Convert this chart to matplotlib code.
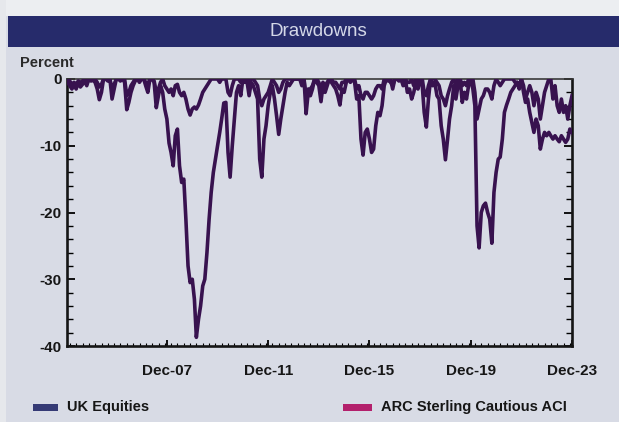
import numpy as np
import pandas as pd
import matplotlib
matplotlib.use("Agg")
import matplotlib.pyplot as plt
import matplotlib.dates as mdates
from matplotlib.patches import Rectangle

# ---------------- data (monthly drawdowns, percent) ----------------
dates = pd.date_range("2004-01-31", "2023-12-31", freq="ME")

uk_equities = [
    # 2004
    -0.5, -1.0, -1.5, -0.8, -1.5, -0.5, -1.2, -0.8, -0.3, -1.0, 0.0, -0.3,
    # 2005
    -0.2, -0.5, -1.5, -3.1, -2.0, 0.0, 0.0, -0.3, 0.0, -3.0, -1.5, 0.0,
    # 2006
    0.0, -0.3, 0.0, -0.5, -4.6, -3.5, -2.0, -1.0, -0.3, 0.0, -0.5, 0.0,
    # 2007
    0.0, -1.0, -2.0, 0.0, 0.0, -0.5, -4.3, -2.5, -1.0, -2.0, -4.5, -6.0,
    # 2008
    -9.6, -11.0, -13.0, -8.5, -7.5, -13.0, -15.5, -15.0, -21.0, -28.0, -30.5, -30.0,
    # 2009
    -33.0, -38.7, -36.0, -34.0, -31.0, -30.0, -26.0, -21.0, -17.0, -14.0, -12.0, -10.0,
    # 2010
    -8.0, -6.0, -3.6, -3.5, -11.0, -14.7, -10.0, -6.0, -2.0, -1.0, -2.5, 0.0,
    # 2011
    -0.5, -0.3, -2.5, -0.5, -1.0, -2.0, -3.0, -12.0, -14.7, -9.0, -7.0, -4.0,
    # 2012
    -2.0, -1.0, -3.0, -5.5, -8.3, -6.0, -4.0, -2.0, -0.5, -1.0, -0.5, 0.0,
    # 2013
    0.0, 0.0, 0.0, -1.0, 0.0, -5.2, -2.0, -2.5, -1.5, 0.0, -0.5, -1.0,
    # 2014
    -3.4, -1.0, -2.0, -1.0, 0.0, -0.5, -1.0, -1.5, -2.5, -3.9, -1.5, -2.0,
    # 2015
    -0.5, 0.0, -0.5, 0.0, -0.5, -3.0, -2.5, -9.0, -11.4, -8.0, -7.5, -9.0,
    # 2016
    -11.0, -10.5, -7.0, -5.0, -5.5, -4.0, -1.0, 0.0, -0.3, 0.0, -1.5, 0.0,
    # 2017
    0.0, -0.3, 0.0, -1.0, 0.0, -2.0, -1.5, -3.0, -2.0, -0.5, -1.5, 0.0,
    # 2018
    -1.0, -5.0, -7.2, -3.0, 0.0, -1.0, -0.5, -2.5, -3.0, -7.0, -9.0, -12.1,
    # 2019
    -9.0, -6.0, -4.0, -1.0, -3.0, -1.0, 0.0, -3.5, -2.0, -3.0, -1.0, 0.0,
    # 2020
    -1.5, -4.0, -22.0, -25.3, -20.0, -19.0, -18.6, -20.0, -21.0, -24.6, -17.0, -14.0,
    # 2021
    -12.0, -11.7, -9.0, -5.0, -3.9, -3.0, -2.0, -1.5, -1.0, -0.5, -1.5, 0.0,
    # 2022
    -1.0, -3.0, -2.0, -1.0, -2.0, -4.0, -2.0, -3.0, -6.0, -4.0, -2.0, -1.0,
    # 2023
    0.0, 0.0, -3.0, -1.0, -4.0, -5.0, -3.0, -5.0, -4.0, -6.0, -4.0, -2.5,
]

arc_cautious = [
    # 2004
    0.0, -0.3, -0.8, -0.5, -0.8, -0.3, -0.5, -0.3, 0.0, -0.2, 0.0, 0.0,
    # 2005
    0.0, 0.0, -0.5, -1.2, -0.8, 0.0, 0.0, 0.0, 0.0, -1.5, -0.8, 0.0,
    # 2006
    0.0, 0.0, 0.0, 0.0, -2.5, -2.0, -1.0, -0.5, 0.0, 0.0, 0.0, 0.0,
    # 2007
    0.0, -0.5, -0.8, 0.0, 0.0, -0.3, -2.0, -1.5, -0.5, 0.0, -1.0, -1.5,
    # 2008
    -2.0, -1.5, -2.5, -1.0, -0.8, -2.0, -2.5, -2.0, -3.0, -4.5, -5.4, -4.5,
    # 2009
    -4.2, -4.5, -3.9, -3.0, -2.0, -1.5, -1.0, -0.5, 0.0, 0.0, 0.0, 0.0,
    # 2010
    -0.5, 0.0, 0.0, 0.0, -2.0, -2.5, -1.0, 0.0, 0.0, 0.0, -0.5, 0.0,
    # 2011
    0.0, 0.0, -0.5, 0.0, 0.0, -0.5, -1.0, -3.0, -4.0, -3.0, -2.5, -2.0,
    # 2012
    -1.0, 0.0, -0.5, -1.0, -2.0, -1.5, -0.5, 0.0, 0.0, 0.0, 0.0, 0.0,
    # 2013
    0.0, 0.0, 0.0, 0.0, 0.0, -2.5, -1.5, -1.5, -1.0, 0.0, 0.0, -0.5,
    # 2014
    -1.5, -0.5, -1.0, -0.5, 0.0, 0.0, -0.5, -0.5, -1.0, -1.5, -0.5, -0.5,
    # 2015
    0.0, 0.0, 0.0, 0.0, 0.0, -1.5, -1.0, -2.5, -3.0, -2.0, -2.0, -2.5,
    # 2016
    -3.0, -2.5, -1.5, -1.0, -1.0, -1.5, 0.0, 0.0, 0.0, -0.5, -1.0, 0.0,
    # 2017
    0.0, 0.0, 0.0, -0.5, 0.0, -0.5, -0.5, 0.0, -1.0, 0.0, -0.5, 0.0,
    # 2018
    0.0, -2.0, -2.5, -1.0, 0.0, 0.0, 0.0, -0.5, -1.0, -2.5, -3.0, -4.0,
    # 2019
    -2.5, -1.5, -0.5, 0.0, -1.0, 0.0, 0.0, -1.0, -0.5, -1.0, 0.0, 0.0,
    # 2020
    0.0, -2.0, -6.0, -4.5, -3.0, -2.5, -1.5, -1.5, -2.0, -3.0, -1.0, 0.0,
    # 2021
    -0.5, -1.0, -0.5, 0.0, 0.0, 0.0, 0.0, 0.0, -0.5, -0.5, -1.0, 0.0,
    # 2022
    -2.0, -3.5, -3.0, -5.0, -6.5, -8.0, -6.0, -7.0, -10.5, -9.0, -8.0, -8.5,
    # 2023
    -8.0, -8.5, -9.0, -8.5, -9.0, -9.4, -8.5, -9.0, -9.5, -9.0, -7.5, -8.0,
]

tick_dates = ["2007-12-31", "2011-12-31", "2015-12-31", "2019-12-31", "2023-12-31"]
tick_labels = ["Dec-07", "Dec-11", "Dec-15", "Dec-19", "Dec-23"]
y_ticks = [0, -10, -20, -30, -40]
legend_names = ["UK Equities", "ARC Sterling Cautious ACI"]

# ---------------- style ----------------
BG = "#d8dbe5"
NAVY = "#262b6b"
LINE = "#38124f"
LEG_COLORS = ["#353a75", "#b3206c"]
TXT = "#161616"
plt.rcParams["font.family"] = ["Liberation Sans", "DejaVu Sans"]

fig = plt.figure(figsize=(6.19, 4.22), dpi=100, facecolor=BG)

# light outer edges and title bar
fig.patches.append(Rectangle((0, 1 - 16 / 422), 1, 16 / 422, transform=fig.transFigure,
                             facecolor="#eceef1", edgecolor="none", zorder=0))
fig.patches.append(Rectangle((0, 0), 6 / 619, 1, transform=fig.transFigure,
                             facecolor="#e6e8ec", edgecolor="none", zorder=0))
fig.patches.append(Rectangle((8 / 619, 1 - 47 / 422), 1, 31 / 422, transform=fig.transFigure,
                             facecolor=NAVY, edgecolor="none", zorder=1))
fig.text(318 / 619, 1 - 32 / 422, "Drawdowns", color="#d4d8e8", fontsize=13.5,
         ha="center", va="center")

ax = fig.add_axes([67 / 619, 1 - 346 / 422, 505 / 619, 267 / 422])
ax.set_facecolor(BG)

ax.plot(dates, uk_equities, color=LINE, lw=2.6, solid_joinstyle="round", zorder=3)
ax.plot(dates, arc_cautious, color=LINE, lw=2.6, solid_joinstyle="round", zorder=3)

ax.set_xlim(pd.Timestamp("2004-01-20"), pd.Timestamp("2023-12-31"))
ax.set_ylim(-40, 0)
ax.set_yticks(y_ticks)
ax.set_yticklabels([str(v) for v in y_ticks])
ax.yaxis.set_minor_locator(matplotlib.ticker.MultipleLocator(2))
ax.set_xticks(pd.to_datetime(tick_dates))
ax.set_xticklabels(tick_labels)
ax.xaxis.set_minor_locator(mdates.MonthLocator(bymonth=[3, 6, 9, 12]))

for s in ["left", "right", "bottom", "top"]:
    ax.spines[s].set_color("#151515")
    ax.spines[s].set_linewidth(1.9)
ax.spines["top"].set_linewidth(1.2)
ax.spines["top"].set_color("#3a3a3a")

ax.tick_params(axis="y", which="major", direction="in", length=6, width=1.3,
               left=True, right=True, labelsize=11, labelcolor=TXT, pad=4)
ax.tick_params(axis="y", which="minor", direction="in", length=4, width=1.0,
               left=True, right=True)
ax.tick_params(axis="x", which="major", direction="in", length=4, width=1.3,
               bottom=True, top=False, labelsize=11, labelcolor=TXT, pad=13)
ax.tick_params(axis="x", which="minor", direction="in", length=2, width=0.8,
               bottom=True, top=False)
for lab in ax.get_xticklabels() + ax.get_yticklabels():
    lab.set_fontweight("bold")

fig.text(20 / 619, 1 - 63 / 422, "Percent", fontsize=10.5, color="#2a2a2a",
         ha="left", va="center", fontweight="bold")

# legend drawn at the bottom
leg_x = [33, 343]
leg_w = [25, 29]
for i, name in enumerate(legend_names):
    fig.patches.append(Rectangle((leg_x[i] / 619, 1 - 411 / 422), leg_w[i] / 619, 7 / 422,
                                 transform=fig.transFigure, facecolor=LEG_COLORS[i],
                                 edgecolor="none"))
    fig.text((leg_x[i] + leg_w[i] + 9) / 619, 1 - 407 / 422, name, fontsize=10.5,
             color=TXT, ha="left", va="center", fontweight="bold")

fig.savefig("out.png", dpi=100, facecolor=BG)
